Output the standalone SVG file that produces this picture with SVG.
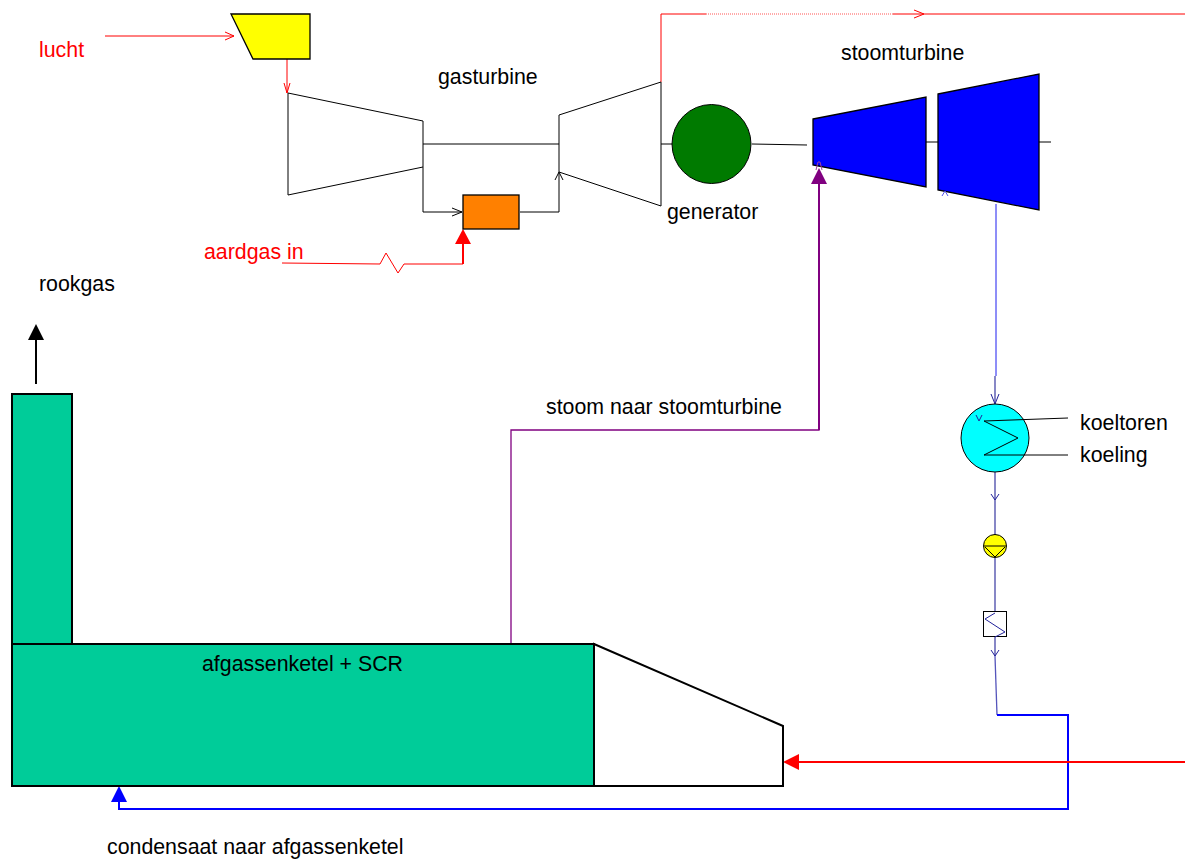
<svg xmlns="http://www.w3.org/2000/svg" width="1185" height="859" viewBox="0 0 1185 859">
<style>
text{font-family:"Liberation Sans",Arial,sans-serif;font-size:21.33px;fill:#000}
text.r{fill:#f00}
.o{stroke:#000;stroke-width:1;fill:none}
.w{stroke:#000;stroke-width:1;fill:#fff}
.s{stroke:#000;stroke-width:1.3;stroke-linejoin:miter}
.b{stroke:#000;stroke-width:2;stroke-linejoin:miter}
.red{stroke:#f00;stroke-width:1;fill:none}
.red2{stroke:#f00;stroke-width:2;fill:none}
.blue{stroke:#1c1cf0;stroke-width:1;fill:none}
.blue2{stroke:#00f;stroke-width:2;fill:none}
.navy{stroke:#6a6ab8;stroke-width:1.6;fill:none}
</style>
<rect width="1185" height="859" fill="#fff"/>
<g id="connectors">
<path class="red" d="M105 36H234M225 32L234 36L225 40"/>
<path class="red" d="M287 59V93M284 83L287 93L290 83"/>
<path class="red" d="M661 82V14H706"/>
<path d="M706 14H893" stroke="#f55" stroke-width="1" stroke-dasharray="1 1" fill="none"/>
<path class="red" d="M893 14H1185M914 10L924 14L914 18"/>
<path class="o" d="M423 144H559"/>
<path class="o" d="M423 167V212H462M452 208L462 212L452 216"/>
<path class="o" d="M520 212H559V172M555 180L559 172L563 180"/>
<path class="o" d="M661 144H672M752 144L807 145M926 142H938M1039 142H1051"/>
<path class="red" d="M282 263L380 264L386 253L398 273L404 264H463"/>
<path class="red2" d="M463 264V240"/>
<polygon points="463,229 471,244 455,244" fill="#f00"/>
<path d="M511 643V430H819V180" stroke="#800080" stroke-width="1.300" fill="none"/>
<path d="M819 430V182" stroke="#800080" stroke-width="2" fill="none"/>
<polygon points="819,168 827,184 811,184" fill="#800080"/>
<path class="blue" d="M996 204V376"/>
<path class="navy" d="M995 376V404"/>
<path d="M991 394L995 404L999 394" stroke="#22229a" fill="none"/>
<path class="navy" d="M995 472V535M995 558V611M995 637V656"/>
<path d="M991 494L995 500L999 494M991 650L995 656L999 650" stroke="#22229a" fill="none"/>
<path d="M995 656L997 715" stroke="#5555bb" stroke-width="1.300" fill="none"/>
<path class="blue2" d="M997 715H1068V809H119V800"/>
<polygon points="119,786 127,802 111,802" fill="#00f"/>
<path class="red2" d="M1185 762H798"/>
<polygon points="783,762 799,754 799,770" fill="#f00"/>
<path d="M36 384V338" stroke="#000" stroke-width="2" fill="none"/>
<polygon points="36,324 44,340 28,340" fill="#000"/>
</g>
<g id="air-filter"><polygon class="s" fill="#ff0" points="231,14 310,14 310,59 253,59"/></g>
<g id="compressor"><polygon class="w" points="288,93 423,121 423,167 288,195"/></g>
<g id="combustor"><rect class="s" fill="#ff8000" x="463" y="195" width="56" height="34"/></g>
<g id="turbine"><polygon class="w" points="559,115 661,82 661,206 559,172"/></g>
<g id="generator-node"><circle cx="711.500" cy="144" r="39.500" fill="#007a00" stroke="#000"/></g>
<g id="steam-turbine-1"><polygon class="s" fill="#00f" points="813,119 926,97 926,187 813,165"/></g>
<g id="steam-turbine-2"><polygon class="s" fill="#00f" points="938,94 1039,74 1039,210 938,190"/></g>
<path d="M816 170L818 162H820L822 170" stroke="#a040a0" fill="none"/>
<path d="M942 196L945 191L948 196" stroke="#5555ee" fill="none"/>
<g id="condenser">
<circle cx="995" cy="438" r="34" fill="#0ff" stroke="#000"/>
<path class="o" d="M1068 418L984 421L1018 438L984 455H1068"/>
<path d="M976 415L979 421L982 415" stroke="#22229a" fill="none"/>
</g>
<g id="pump">
<circle cx="995" cy="546" r="11.500" fill="#ff0" stroke="#000"/>
<path class="o" d="M984 546H1006M985 547L995 557L1005 547"/>
</g>
<g id="heater">
<rect class="w" x="983.500" y="611.500" width="23" height="25"/>
<path d="M995 613L985 619L1005 632L995 637" stroke="#22229a" fill="none"/>
</g>
<g id="stack"><rect class="b" fill="#0c9" x="12" y="394" width="60" height="250"/></g>
<g id="boiler"><rect class="b" fill="#0c9" x="12" y="644" width="582" height="142"/></g>
<g id="scr-inlet"><polygon class="b" fill="#fff" points="594,644 783,726 783,786 594,786"/></g>
<g id="labels">
<text class="r" x="39" y="57">lucht</text>
<text x="438" y="84">gasturbine</text>
<text x="841" y="60">stoomturbine</text>
<text x="667" y="219">generator</text>
<text class="r" x="204" y="259">aardgas in</text>
<text x="39" y="291">rookgas</text>
<text x="546" y="414">stoom naar stoomturbine</text>
<text x="1080" y="430">koeltoren</text>
<text x="1080" y="462">koeling</text>
<text x="202" y="671">afgassenketel + SCR</text>
<text x="107" y="854">condensaat naar afgassenketel</text>
</g>
</svg>
